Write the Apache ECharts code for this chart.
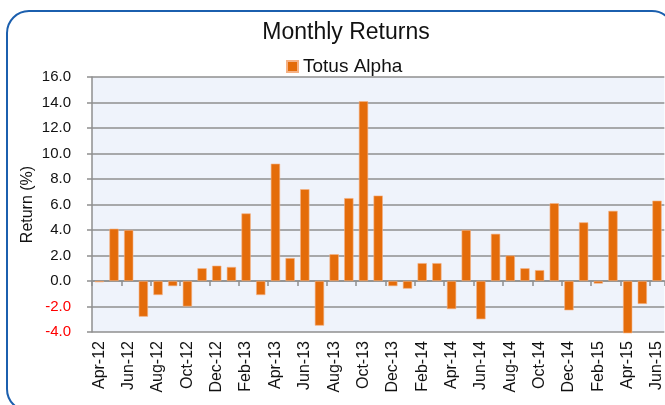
<!DOCTYPE html>
<html>
<head>
<meta charset="utf-8">
<script src="https://cdn.jsdelivr.net/npm/echarts@6/dist/echarts.min.js"></script>
<style>
  html, body { margin: 0; padding: 0; background: #fff; }
  #chart { width: 665px; height: 405px; }
</style>
</head>
<body>
<div id="chart"></div>
<script>
// months Apr-12 .. Jun-15
const months = [
  'Apr-12', 'May-12', 'Jun-12', 'Jul-12', 'Aug-12', 'Sep-12', 'Oct-12', 'Nov-12', 'Dec-12',
  'Jan-13', 'Feb-13', 'Mar-13', 'Apr-13', 'May-13', 'Jun-13', 'Jul-13', 'Aug-13', 'Sep-13',
  'Oct-13', 'Nov-13', 'Dec-13', 'Jan-14', 'Feb-14', 'Mar-14', 'Apr-14', 'May-14', 'Jun-14',
  'Jul-14', 'Aug-14', 'Sep-14', 'Oct-14', 'Nov-14', 'Dec-14', 'Jan-15', 'Feb-15', 'Mar-15',
  'Apr-15', 'May-15', 'Jun-15'
]
const totusAlpha = [
  -0.1, 4.1, 4.0, -2.8, -1.1, -0.4, -2.0, 1.0, 1.2,
  1.1, 5.3, -1.1, 9.2, 1.8, 7.2, -3.5, 2.1, 6.5,
  14.1, 6.7, -0.4, -0.6, 1.4, 1.4, -2.2, 4.0, -3.0,
  3.7, 2.0, 1.0, 0.85, 6.1, -2.3, 4.6, -0.2, 5.5,
  -4.1, -1.8, 6.3
]
const yMin = -4
const yMax = 16
const yStep = 2

const chart = echarts.init(document.getElementById('chart'))
const gridColor = '#8f8f8f'

chart.setOption({
  animation: false,
  title: {
    text: 'Monthly Returns',
    left: 341,
    top: 16,
    textAlign: 'center',
    textStyle: {
      fontFamily: 'Liberation Sans Narrow, Liberation Sans, sans-serif',
      fontWeight: 'normal',
      fontSize: 23,
      color: '#111'
    }
  },
  legend: {
    data: ['Totus Alpha'],
    left: 281,
    top: 52,
    icon: 'rect',
    itemWidth: 11,
    itemHeight: 11,
    itemGap: 4,
    textStyle: {
      fontFamily: 'Liberation Sans Narrow, Liberation Sans, sans-serif',
      fontSize: 19,
      color: '#111'
    }
  },
  graphic: [{
    type: 'rect',
    shape: { x: 7, y: 11, width: 667, height: 400, r: 22 },
    style: { fill: 'none', stroke: '#1b5fae', lineWidth: 2 },
    silent: true,
    z: -10
  }],
  grid: {
    left: 92,
    right: 0,
    top: 77,
    bottom: 73,
    show: true,
    backgroundColor: '#eff3fb',
    borderWidth: 0
  },
  xAxis: [{
    type: 'category',
    data: months,
    position: 'bottom',
    axisLine: { show: false, onZero: false },
    axisTick: { show: false },
    axisLabel: {
      interval: 1,
      rotate: 90,
      margin: 9,
      fontFamily: 'Liberation Sans, Arial, sans-serif',
      fontSize: 16,
      color: '#111'
    }
  }, {
    type: 'category',
    data: months,
    position: 'bottom',
    axisLine: { show: true, onZero: true, lineStyle: { color: gridColor, width: 1.5 } },
    axisTick: { show: true, interval: 1, length: 5, lineStyle: { color: gridColor, width: 1.5 } },
    axisLabel: { show: false }
  }],
  yAxis: {
    type: 'value',
    min: yMin,
    max: yMax,
    interval: yStep,
    name: 'Return (%)',
    nameLocation: 'middle',
    nameRotate: 90,
    nameGap: 56,
    nameMoveOverlap: false,
    nameTextStyle: {
      fontFamily: 'Liberation Sans, Arial, sans-serif',
      fontSize: 16,
      color: '#111'
    },
    axisLine: { show: true, lineStyle: { color: gridColor, width: 1.5 } },
    axisTick: { show: true, length: 5, lineStyle: { color: gridColor, width: 1.5 } },
    splitLine: { show: true, lineStyle: { color: gridColor, width: 1.5 } },
    axisLabel: {
      margin: 21,
      fontFamily: 'Liberation Sans, Arial, sans-serif',
      fontSize: 15,
      formatter: v => v.toFixed(1),
      color: v => (v < 0 ? '#ff0000' : '#111')
    }
  },
  series: [{
    name: 'Totus Alpha',
    type: 'bar',
    xAxisIndex: 0,
    data: totusAlpha,
    barWidth: '63%',
    clip: false,
    itemStyle: {
      color: '#e46c0a',
      borderColor: '#f5b184',
      borderWidth: 0.6
    }
  }]
})
</script>
</body>
</html>
